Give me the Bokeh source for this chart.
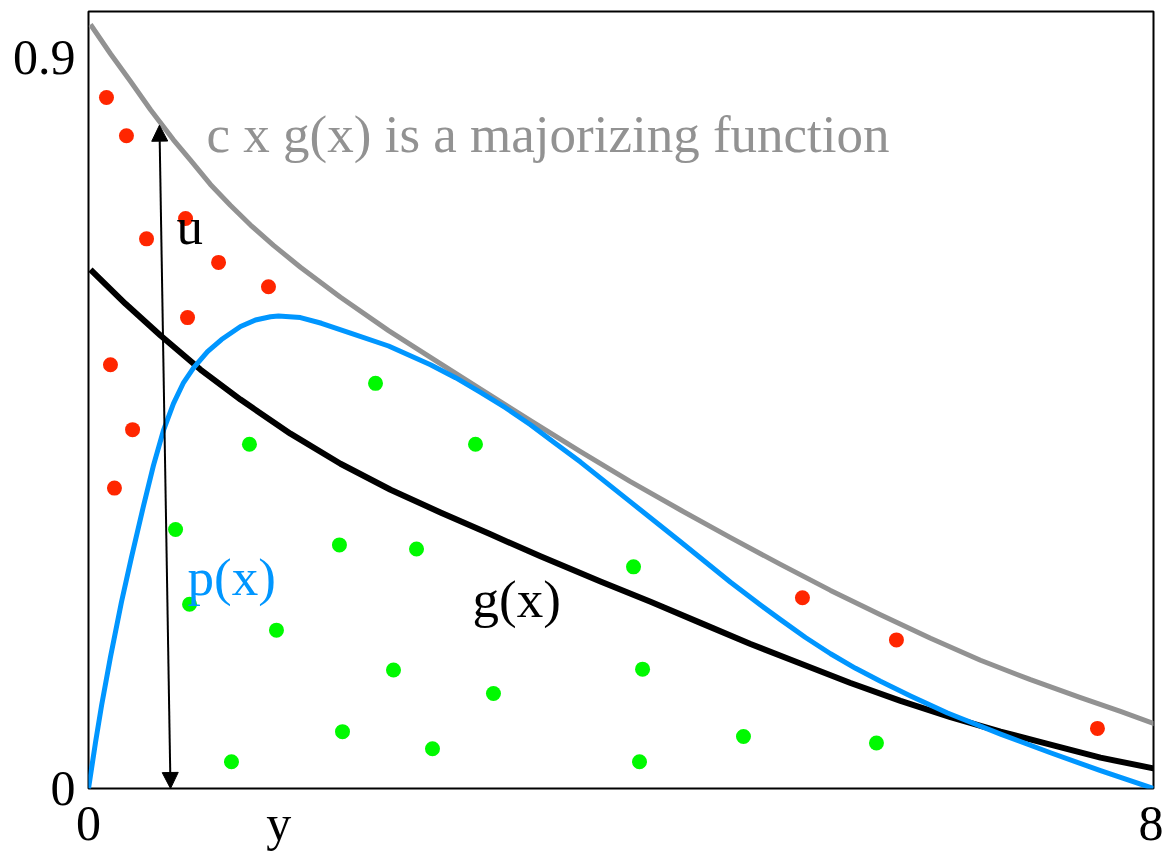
from bokeh.plotting import figure
from bokeh.models import Range1d, FixedTicker, Arrow, NormalHead, ColumnDataSource
from bokeh.core.properties import value
from bokeh.embed import file_html
from bokeh.resources import INLINE

# Target density p(x)
p_x = [0.0, 0.053, 0.098, 0.165, 0.248, 0.323, 0.413, 0.488, 0.563, 0.638,
       0.714, 0.789, 0.894, 0.999, 1.142, 1.254, 1.367, 1.427, 1.592, 1.750,
       1.968, 2.254, 2.569, 2.757, 2.945, 3.132, 3.320, 3.508, 3.696, 4.071,
       4.447, 4.823, 5.048, 5.198, 5.386, 5.574, 5.762, 5.949, 6.175, 6.453,
       6.851, 7.226, 7.602, 8.0]
p_y = [0.0, 0.057, 0.102, 0.162, 0.230, 0.285, 0.348, 0.398, 0.441, 0.474,
       0.500, 0.518, 0.538, 0.553, 0.569, 0.577, 0.581, 0.582, 0.580, 0.573,
       0.561, 0.545, 0.522, 0.506, 0.488, 0.469, 0.448, 0.425, 0.402, 0.353,
       0.304, 0.254, 0.226, 0.208, 0.186, 0.166, 0.148, 0.132, 0.114, 0.093,
       0.067, 0.044, 0.022, 0.0]

# Proposal density g(x)
g_x = [0.015, 0.278, 0.541, 0.841, 1.142, 1.517, 1.893, 2.269, 2.644, 3.020, 3.395,
       3.846, 4.222, 4.597, 4.973, 5.348, 5.724, 6.100, 6.475, 6.851, 7.226, 7.602,
       8.053]
g_y = [0.639, 0.597, 0.558, 0.516, 0.479, 0.437, 0.400, 0.368, 0.340, 0.313, 0.286,
       0.255, 0.230, 0.204, 0.178, 0.154, 0.130, 0.108, 0.088, 0.070, 0.054, 0.038,
       0.023]

# Envelope c * g(x)
cg_x = [0.015, 0.165, 0.315, 0.466, 0.638, 0.766, 0.916, 1.067, 1.217, 1.390, 1.592,
        1.893, 2.254, 2.569, 2.945, 3.320, 3.696, 4.071, 4.447, 4.823, 5.198, 5.574,
        5.949, 6.325, 6.700, 7.076, 7.452, 7.752, 8.053]
cg_y = [0.941, 0.905, 0.871, 0.836, 0.799, 0.774, 0.744, 0.718, 0.694, 0.669, 0.642,
        0.605, 0.564, 0.531, 0.492, 0.453, 0.415, 0.378, 0.343, 0.309, 0.276, 0.244,
        0.214, 0.185, 0.158, 0.134, 0.112, 0.095, 0.077]

# Rejected samples
rej_x = [0.135, 0.285, 0.729, 0.436, 0.977, 1.352, 0.744, 0.165, 0.331, 0.195,
         5.363, 6.069, 7.579]
rej_y = [0.851, 0.804, 0.702, 0.677, 0.648, 0.618, 0.580, 0.522, 0.442, 0.370,
         0.235, 0.183, 0.074]

# Accepted samples
acc_x = [2.156, 1.209, 2.907, 0.654, 1.885, 2.464, 4.094, 0.759, 1.412, 2.291,
         4.162, 3.042, 1.908, 4.920, 5.919, 2.584, 1.074, 4.139]
acc_y = [0.499, 0.424, 0.424, 0.319, 0.300, 0.295, 0.273, 0.227, 0.195, 0.146,
         0.147, 0.117, 0.070, 0.064, 0.056, 0.049, 0.033, 0.033]

# Vertical draw of u at the proposed point y
u_arrow_x = [0.616, 0.533]
u_arrow_y = [0.0, 0.817]

# Axis tick labels
x_ticks = [0, 1.43, 8]
x_tick_labels = ["0", "y", "8"]
y_ticks = [0, 0.9]
y_tick_labels = ["0", "0.9"]

# Curve and axis annotations
note_text = ["c x g(x) is a majorizing function", "u", "p(x)", "g(x)"]
note_x = [0.887, 0.661, 0.744, 2.885]
note_y = [0.806, 0.693, 0.261, 0.233]
note_color = ["#929292", "black", "#0096FF", "black"]

SERIF = "Liberation Serif"

p = figure(width=1163, height=853, output_backend="svg", toolbar_location=None,
           x_range=Range1d(0, 8), y_range=Range1d(0, 0.957),
           min_border_left=88, min_border_right=10, min_border_top=11,
           min_border_bottom=63, background_fill_color="white",
           border_fill_color="white")
p.grid.visible = False
p.outline_line_color = "black"
p.outline_line_width = 2

for ax in (p.xaxis[0], p.yaxis[0]):
    ax.axis_line_color = None
    ax.major_tick_line_color = None
    ax.minor_tick_line_color = None
    ax.major_tick_out = 0
    ax.major_tick_in = 0
    ax.major_label_text_font = SERIF
    ax.major_label_text_font_size = "50px"
    ax.major_label_text_color = "black"

p.xaxis.ticker = FixedTicker(ticks=x_ticks)
p.xaxis.major_label_overrides = dict(zip(x_ticks, x_tick_labels))
p.xaxis.major_label_standoff = 6
p.yaxis.ticker = FixedTicker(ticks=y_ticks)
p.yaxis.major_label_overrides = dict(zip(y_ticks, y_tick_labels))
p.yaxis.major_label_standoff = 13

p.line(cg_x, cg_y, line_color="#929292", line_width=5, line_join="round")
p.line(g_x, g_y, line_color="black", line_width=6, line_join="round")
p.line(p_x, p_y, line_color="#0096FF", line_width=5, line_join="round")

p.scatter(rej_x, rej_y, size=15, fill_color="#FF2600", line_color=None)
p.scatter(acc_x, acc_y, size=15, fill_color="#00F900", line_color=None)

p.add_layout(Arrow(
    start=NormalHead(size=16, fill_color="black", line_color="black", line_width=1),
    end=NormalHead(size=16, fill_color="black", line_color="black", line_width=1),
    x_start=u_arrow_x[0], y_start=u_arrow_y[0],
    x_end=u_arrow_x[1], y_end=u_arrow_y[1],
    line_color="black", line_width=2))

notes = ColumnDataSource(dict(x=note_x, y=note_y, text=note_text, color=note_color))
p.text(x="x", y="y", text="text", source=notes, text_color="color",
       text_font=value(SERIF), text_font_size=value("53px"),
       text_align="left", text_baseline="alphabetic")

open("out.html", "w").write(file_html(p, INLINE))
